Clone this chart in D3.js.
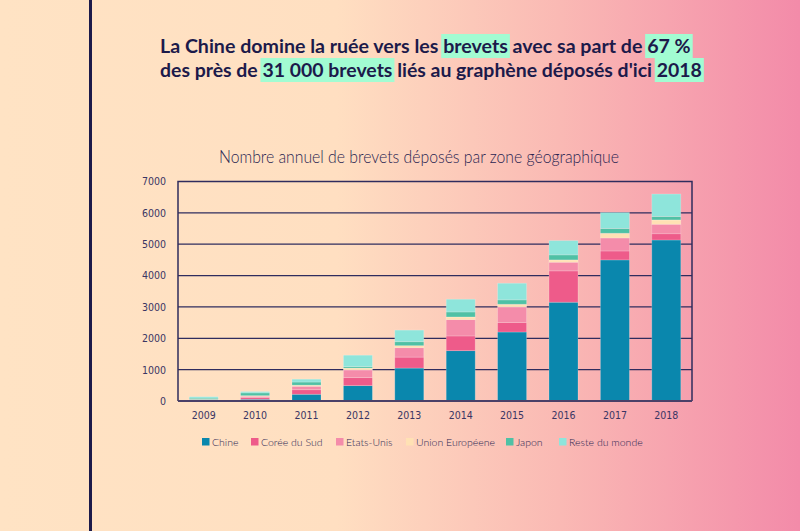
<!DOCTYPE html>
<html>
<head>
<meta charset="utf-8">
<script src="https://cdn.jsdelivr.net/npm/d3@7"></script>
<style>
  html, body { margin: 0; padding: 0; }
  body { width: 800px; height: 531px; overflow: hidden; }
  svg { display: block; }
</style>
</head>
<body>
<svg id="chart" width="800" height="531"></svg>
<script>
// ---------- DATA ----------
const years = ["2009","2010","2011","2012","2013","2014","2015","2016","2017","2018"];
const seriesNames = ["Chine","Corée du Sud","Etats-Unis","Union Européene","Japon","Reste du monde"];
const chine   = [10, 55, 215, 490, 1050, 1605, 2200, 3150, 4500, 5135];
const coree   = [15, 60, 145, 255, 350, 470, 300, 1000, 285, 200];
const etats   = [20, 35, 110, 245, 300, 520, 500, 275, 415, 300];
const ue      = [5, 20, 35, 60, 65, 85, 85, 75, 150, 140];
const japon   = [40, 90, 100, 45, 125, 160, 140, 160, 150, 105];
const reste   = [45, 40, 90, 365, 370, 405, 530, 455, 510, 720];
const yTicks  = [0, 1000, 2000, 3000, 4000, 5000, 6000, 7000];
const colors  = ["#0a87ad", "#ee5b8a", "#f48caa", "#ffe1b4", "#4fc1a5", "#8ee5db"];

const titleLine1 = [["La Chine domine la ruée vers les", false], ["brevets", true], ["avec sa part de", false], ["67 %", true]];
const titleLine2 = [["des près de", false], ["31 000 brevets", true], ["liés au graphène déposés d'ici", false], ["2018", true]];
const subtitle = "Nombre annuel de brevets déposés par zone géographique";

(function () {
// ---------- SETUP ----------
const svg = d3.select("#chart");
const W = 800, H = 531;
const navy = "#1c1a4a";

const defs = svg.append("defs");
const grad = defs.append("linearGradient").attr("id", "bg").attr("x1", "0%").attr("x2", "100%").attr("y1", "0%").attr("y2", "0%");
grad.append("stop").attr("offset", "0%").attr("stop-color", "#ffe3c4");
grad.append("stop").attr("offset", "42%").attr("stop-color", "#ffdfc1");
grad.append("stop").attr("offset", "70%").attr("stop-color", "#fab9b4");
grad.append("stop").attr("offset", "100%").attr("stop-color", "#f38ba9");
svg.append("rect").attr("width", W).attr("height", H).attr("fill", "url(#bg)");

// left vertical bar
svg.append("rect").attr("x", 89).attr("y", 0).attr("width", 3).attr("height", H).attr("fill", navy);

// ---------- TITLE ----------
function drawLine(segs, baseline, targetWidth, x0) {
  const g = svg.append("g");
  const base = 18;
  const font = "Lato, 'Open Sans', sans-serif";
  const meas = (t, fs) => {
    const el = g.append("text").attr("font-family", font).attr("font-weight", 700).attr("font-size", fs).text(t);
    const w = el.node().getComputedTextLength(); el.remove(); return w;
  };
  const sp = meas("a a", base) - meas("aa", base);
  let total = 0;
  segs.forEach((s, i) => { total += meas(s[0], base) + (i ? sp : 0); });
  const fs = base * targetWidth / total;
  const spc = sp * fs / base;
  let xx = x0;
  segs.forEach((s, i) => {
    if (i) xx += spc;
    const w = meas(s[0], fs);
    if (s[1]) {
      g.append("rect").attr("x", xx - 2).attr("y", baseline - 19).attr("width", w + 4).attr("height", 24).attr("fill", "#a2fcd2");
    }
    g.append("text").attr("x", xx).attr("y", baseline).attr("font-family", font).attr("font-weight", 700)
      .attr("font-size", fs).attr("fill", navy).text(s[0]);
    xx += w;
  });
}
drawLine(titleLine1, 53, 531, 160);
drawLine(titleLine2, 77, 542, 160);

svg.append("text").attr("x", 219).attr("y", 163)
  .attr("textLength", 400).attr("lengthAdjust", "spacingAndGlyphs")
  .attr("font-family", "Lato, sans-serif").attr("font-weight", 300).attr("font-size", 17.5)
  .attr("fill", "#2a2552").text(subtitle);

// ---------- CHART ----------
const pLeft = 178, pRight = 692, pTop = 181.5, pBottom = 401;
const x = d3.scaleBand().domain(years).range([pLeft, pRight]).paddingInner(0.436).paddingOuter(0.218);
const y = d3.scaleLinear().domain([0, 7000]).range([pBottom, pTop]);

// gridlines
svg.append("g").selectAll("line").data(yTicks.slice(1, -1)).join("line")
  .attr("x1", pLeft).attr("x2", pRight).attr("y1", d => y(d)).attr("y2", d => y(d))
  .attr("stroke", "#2f2c5e").attr("stroke-width", 1.3);

// stacked data
const rows = years.map((yr, i) => ({
  year: yr, "Chine": chine[i], "Corée du Sud": coree[i], "Etats-Unis": etats[i],
  "Union Européene": ue[i], "Japon": japon[i], "Reste du monde": reste[i]
}));
const stack = d3.stack().keys(seriesNames)(rows);
const color = d3.scaleOrdinal().domain(seriesNames).range(colors);

svg.append("g").selectAll("g").data(stack).join("g").attr("fill", d => color(d.key))
  .selectAll("rect").data(d => d).join("rect")
  .attr("x", d => x(d.data.year)).attr("width", x.bandwidth())
  .attr("y", d => y(d[1])).attr("height", d => y(d[0]) - y(d[1]))
  .attr("stroke", "rgba(255,255,255,0.25)").attr("stroke-width", 0.8);

// frame
svg.append("path")
  .attr("d", `M${pLeft},${pBottom} L${pLeft},${pTop} L${pRight},${pTop} L${pRight},${pBottom}`)
  .attr("fill", "none").attr("stroke", "#2f2c5e").attr("stroke-width", 1.5);
svg.append("line").attr("x1", pLeft).attr("x2", pRight).attr("y1", pBottom).attr("y2", pBottom)
  .attr("stroke", "#4a4068").attr("stroke-width", 2);

// y axis labels
const yAxis = d3.axisLeft(y).tickValues(yTicks).tickSize(0).tickPadding(12).tickFormat(d3.format("d"));
const ya = svg.append("g").attr("transform", `translate(${pLeft},0)`).call(yAxis);
ya.select(".domain").remove();
ya.selectAll("text").attr("font-family", "'DejaVu Sans Condensed', 'Liberation Sans Narrow', sans-serif")
  .attr("font-size", 10.5).attr("fill", "#3a3563");

// x axis labels
const xAxis = d3.axisBottom(x).tickSize(0).tickPadding(11);
const xa = svg.append("g").attr("transform", `translate(0,${pBottom})`).call(xAxis);
xa.select(".domain").remove();
xa.selectAll("text").attr("font-family", "'DejaVu Sans Condensed', 'Liberation Sans Narrow', sans-serif")
  .attr("font-size", 10.5).attr("fill", "#3a3563");

// legend
const legendX = [202, 251, 336, 406, 506, 559];
const lg = svg.append("g").selectAll("g").data(seriesNames).join("g")
  .attr("transform", (d, i) => `translate(${legendX[i]},438)`);
lg.append("rect").attr("width", 7.5).attr("height", 7.5).attr("fill", d => color(d));
lg.append("text").attr("x", 10).attr("y", 7.5).attr("font-family", "Lato, sans-serif").attr("font-weight", 300)
  .attr("font-size", 10.5).attr("fill", "#2a2552").text(d => d);
})();
</script>
</body>
</html>
